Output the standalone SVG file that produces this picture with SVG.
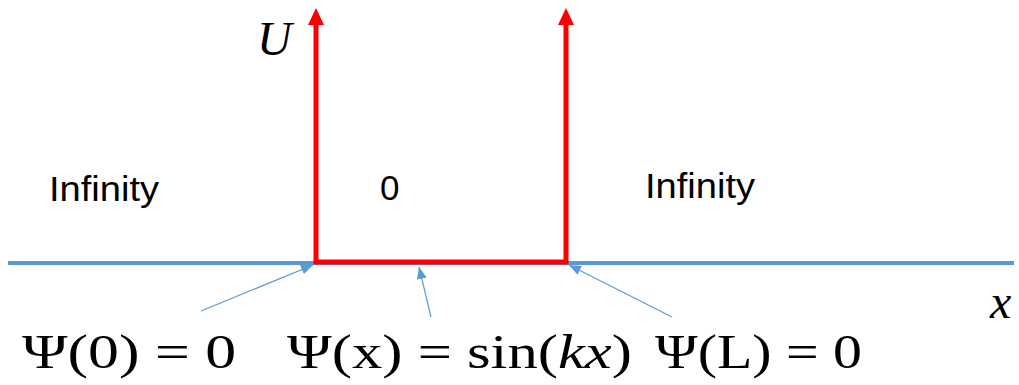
<svg xmlns="http://www.w3.org/2000/svg" width="1019" height="385" viewBox="0 0 1019 385">
<style>
.lbl{font-family:"Liberation Sans","Open Sans",sans-serif;font-size:35px;fill:#000}
.math{font-family:"Liberation Serif","DejaVu Serif",serif;font-size:48px;fill:#000}
.it{font-style:italic}
.red{stroke:#FF0000;stroke-width:5;fill:none}
.ptr{stroke:#5B9BD5;stroke-width:1.2;fill:none}
</style>
<defs>
<marker id="ra" markerWidth="16" markerHeight="16" refX="8" refY="16" orient="0" markerUnits="userSpaceOnUse" viewBox="0 0 16 16">
<path d="M0,16 L8,0 L16,16 Z" fill="#FF0000"/>
</marker>
<marker id="ba" markerWidth="12" markerHeight="10" refX="12" refY="5" orient="auto" markerUnits="userSpaceOnUse" viewBox="0 0 12 10">
<path d="M0,0 L12,5 L0,10 Z" fill="#5B9BD5"/>
</marker>
</defs>
<g id="axis">
<line x1="8" y1="263" x2="1014" y2="263" stroke="#5B9BD5" stroke-width="4"/>
</g>
<g id="well">
<polyline class="red" points="316,24 316,262 566,262 566,24"/>
<path d="M308,25 L316,8 L324,25 Z" fill="#FF0000"/>
<path d="M558,25 L566,8 L574,25 Z" fill="#FF0000"/>
</g>
<g id="connectors">
<line class="ptr" x1="201" y1="311" x2="313" y2="265" marker-end="url(#ba)"/>
<line class="ptr" x1="431" y1="317" x2="419" y2="267" marker-end="url(#ba)"/>
<line class="ptr" x1="672" y1="317" x2="569" y2="265" marker-end="url(#ba)"/>
</g>
<g id="label-U"><text class="math it" x="257" y="55">U</text></g>
<g id="label-x"><text class="math it" x="990" y="318">x</text></g>
<g id="left-region"><text class="lbl" x="49" y="201" textLength="110" lengthAdjust="spacingAndGlyphs">Infinity</text></g>
<g id="mid-region"><text class="lbl" x="380" y="200">0</text></g>
<g id="right-region"><text class="lbl" x="645" y="198" textLength="110" lengthAdjust="spacingAndGlyphs">Infinity</text></g>
<g id="psi0"><text class="math" x="22" y="368" textLength="214" lengthAdjust="spacingAndGlyphs">Ψ(0) = 0</text></g>
<g id="psix"><text class="math" x="287" y="368" textLength="345" lengthAdjust="spacingAndGlyphs">Ψ(x) = sin(<tspan class="it">kx</tspan>)</text></g>
<g id="psiL"><text class="math" x="655" y="368" textLength="207" lengthAdjust="spacingAndGlyphs">Ψ(L) = 0</text></g>
</svg>
